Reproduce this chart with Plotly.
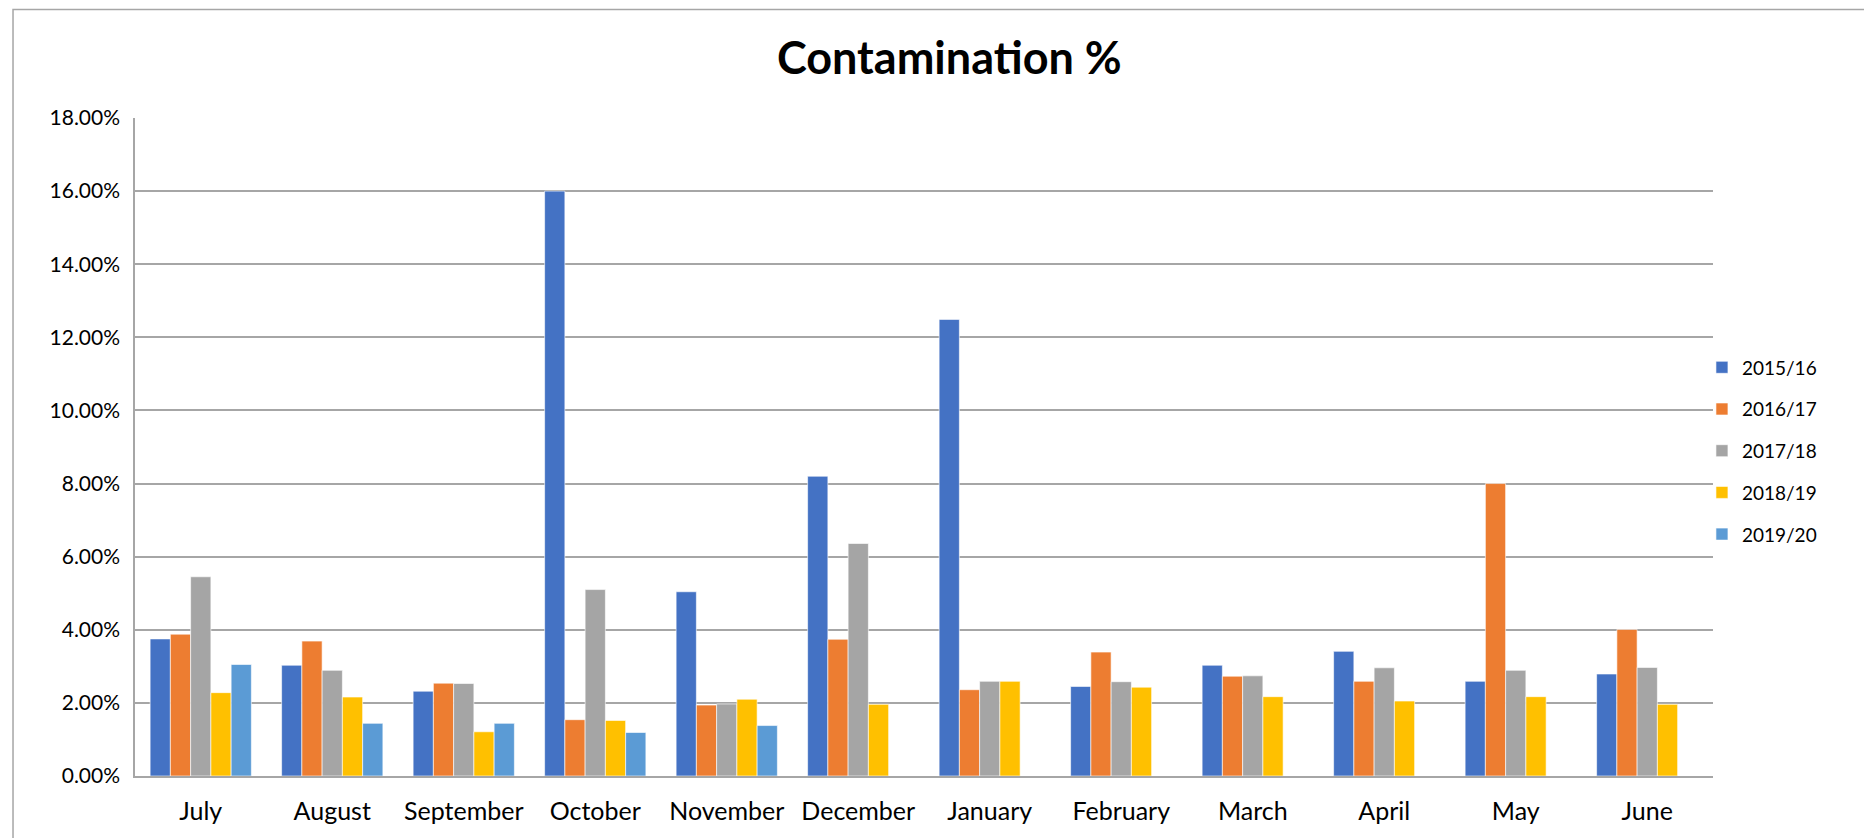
import plotly.graph_objects as go

months = ["July", "August", "September", "October", "November", "December",
          "January", "February", "March", "April", "May", "June"]
series_names = ["2015/16", "2016/17", "2017/18", "2018/19", "2019/20"]

# values in percent
s2015_16 = [3.75, 3.03, 2.32, 16.00, 5.04, 8.20, 12.49, 2.45, 3.03, 3.41, 2.59, 2.79]
s2016_17 = [3.88, 3.69, 2.54, 1.54, 1.94, 3.74, 2.36, 3.39, 2.73, 2.59, 8.00, 4.01]
s2017_18 = [5.45, 2.89, 2.53, 5.10, 1.97, 6.36, 2.59, 2.58, 2.74, 2.96, 2.89, 2.97]
s2018_19 = [2.28, 2.16, 1.21, 1.52, 2.10, 1.96, 2.59, 2.43, 2.17, 2.05, 2.17, 1.96]
s2019_20 = [3.05, 1.44, 1.44, 1.19, 1.38, None, None, None, None, None, None, None]

colors = ["#4472C4", "#ED7D31", "#A5A5A5", "#FFC000", "#5B9BD5"]
y_ticks = [0, 2, 4, 6, 8, 10, 12, 14, 16, 18]
y_tick_labels = [f"{v:.2f}%" for v in y_ticks]

FONT = "Lato"

fig = go.Figure()
for name, vals, col in zip(series_names,
                           [s2015_16, s2016_17, s2017_18, s2018_19, s2019_20],
                           colors):
    fig.add_trace(go.Bar(
        x=months, y=vals, name=name, legendgroup=name,
        marker=dict(color=col, line=dict(color="white", width=0.6)),
    ))

fig.update_layout(
    width=1864, height=830,
    paper_bgcolor="white", plot_bgcolor="white",
    margin=dict(l=127, r=159, t=110, b=62),
    barmode="group", bargap=0.23, bargroupgap=0,
    font=dict(family=FONT, color="#000000", size=19),
    title=dict(text="<b>Contamination %</b>", x=0.505, xanchor="center",
               y=0.94, yanchor="middle",
               font=dict(family=FONT, size=45, color="#000000")),
    legend=dict(x=0.993, xanchor="left", y=0.494, yanchor="middle",
                font=dict(family=FONT, size=19), tracegroupgap=14,
                itemwidth=30, bgcolor="rgba(0,0,0,0)"),
    showlegend=True,
)

fig.update_xaxes(
    type="category", showgrid=False, showline=True, linecolor="#A6A6A6",
    linewidth=1.5, ticks="", tickfont=dict(family=FONT, size=25),
    ticklabelstandoff=12,
)
fig.update_yaxes(
    range=[0, 18], tickvals=y_ticks, ticktext=y_tick_labels,
    showgrid=True, gridcolor="#A6A6A6", gridwidth=1.5,
    showline=True, linecolor="#A6A6A6", linewidth=1.5,
    zeroline=False, ticks="", tickfont=dict(family=FONT, size=21),
    ticklabelstandoff=9,
)

# outer chart border (visible left and top edges)
fig.add_shape(type="rect", xref="paper", yref="paper",
              x0=-0.0773, x1=1.3, y0=-0.3, y1=1.165,
              line=dict(color="#A6A6A6", width=1.5), layer="below")

fig.write_html("out.html")
